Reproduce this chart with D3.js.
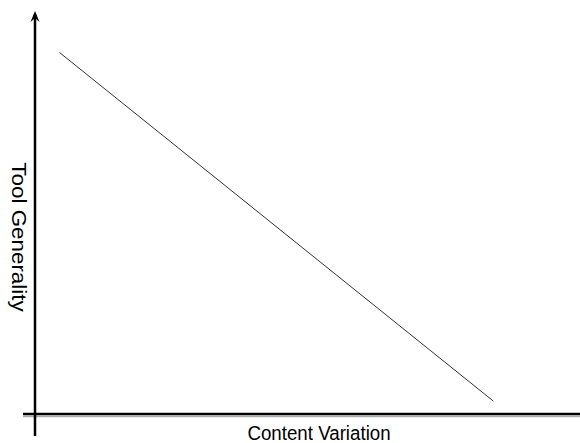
<!DOCTYPE html>
<html>
<head>
<meta charset="utf-8">
<script src="https://cdn.jsdelivr.net/npm/d3@7"></script>
<style>
html,body{margin:0;padding:0;background:#fff;}
svg{display:block;font-family:"Liberation Sans",Arial,sans-serif;}
</style>
</head>
<body>
<svg id="chart" width="580" height="443"></svg>
<script>
const xLabel = "Content Variation";
const yLabel = "Tool Generality";
const xValues = [0.045, 0.841];
const yValues = [0.897, 0.032];

const svg = d3.select("#chart");
const x = d3.scaleLinear().domain([0, 1]).range([35, 580]);
const y = d3.scaleLinear().domain([0, 1]).range([414, 11]);

// x axis shadow
svg.append("line").attr("x1",23).attr("x2",580).attr("y1",416.5).attr("y2",416.5)
  .attr("stroke","#aaa").attr("stroke-width",1.5);
// x axis
svg.append("line").attr("x1",23).attr("x2",580).attr("y1",y(0)).attr("y2",y(0))
  .attr("stroke","#000").attr("stroke-width",2.5);
// y axis
svg.append("line").attr("x1",x(0)).attr("x2",x(0)).attr("y1",436).attr("y2",14)
  .attr("stroke","#000").attr("stroke-width",2.5);
svg.append("path").attr("d",`M${x(0)-4.5},22 L${x(0)},11 L${x(0)+4.5},22 L${x(0)},18 Z`).attr("fill","#000");

const pts = xValues.map((v,i)=>[v, yValues[i]]);
svg.append("path").datum(pts)
  .attr("d", d3.line().x(d=>x(d[0])).y(d=>y(d[1])))
  .attr("fill","none").attr("stroke","#333").attr("stroke-width",1);

svg.append("text").attr("transform","translate(319,439.5) scale(0.96,1)")
  .attr("text-anchor","middle").attr("font-size",19.5).attr("fill","#000").text(xLabel);
svg.append("text").attr("transform","translate(12,237) rotate(90) scale(1.12,1)")
  .attr("text-anchor","middle").attr("font-size",20).attr("fill","#000").text(yLabel);
</script>
</body>
</html>
